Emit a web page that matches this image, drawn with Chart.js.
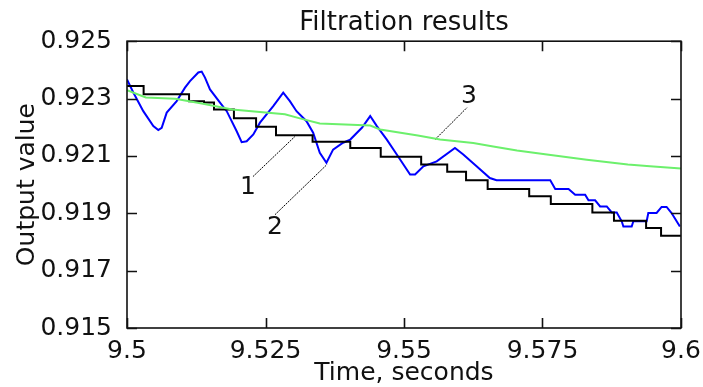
<!DOCTYPE html>
<html>
<head>
<meta charset="utf-8">
<script src="https://cdn.jsdelivr.net/npm/chart.js@4/dist/chart.umd.min.js"></script>
<style>
  html, body { margin: 0; padding: 0; background: #fff; }
  #wrap { width: 703px; height: 387px; }
</style>
</head>
<body>
<div id="wrap"><canvas id="filterChart" width="703" height="387"></canvas></div>
<script>
// axis ticks
const xTicks = [9.5, 9.525, 9.55, 9.575, 9.6];
const xTickLabels = ['9.5', '9.525', '9.55', '9.575', '9.6'];
const yTicks = [0.915, 0.917, 0.919, 0.921, 0.923, 0.925];
const yTickLabels = ['0.915', '0.917', '0.919', '0.921', '0.923', '0.925'];

// curve 1 (black, stepped)
const blackTimes = [9.5, 9.503, 9.5112, 9.5139, 9.5157, 9.5193, 9.5233, 9.5269, 9.5335, 9.5403, 9.5458,
  9.5531, 9.5578, 9.5612, 9.5651, 9.5726, 9.5765, 9.584, 9.5879, 9.5937, 9.5964, 9.6];
const blackValues = [0.92344, 0.92315, 0.92291, 0.92286, 0.92262, 0.92231, 0.92202, 0.92172, 0.92149, 0.92128, 0.92097,
  0.9207, 0.92045, 0.92015, 0.91985, 0.91959, 0.91932, 0.91903, 0.91874, 0.91849, 0.91822, 0.91822];

// curve 2 (blue)
const blueTimes = [9.5, 9.50114, 9.50294, 9.50475, 9.50565, 9.50626, 9.50717, 9.50897, 9.51047, 9.51137, 9.51287,
  9.51348, 9.51408, 9.51498, 9.51679, 9.518, 9.5198, 9.5207, 9.5216, 9.5228, 9.524, 9.5264, 9.5282, 9.5294,
  9.5306, 9.5324, 9.5336, 9.5348, 9.536, 9.5372, 9.539, 9.5403, 9.5424, 9.5439, 9.5451, 9.5469, 9.5487,
  9.5511, 9.552, 9.5535, 9.5559, 9.5592, 9.5607, 9.5631, 9.5655, 9.5667, 9.5764, 9.5773, 9.5797, 9.5809,
  9.5827, 9.5833, 9.5845, 9.5854, 9.5866, 9.5875, 9.5884, 9.5893, 9.5896, 9.5911, 9.5914, 9.5938, 9.5941,
  9.5956, 9.5965, 9.5974, 9.5983, 9.5998];
const blueValues = [0.92367, 0.92321, 0.92256, 0.92204, 0.9219, 0.92198, 0.92251, 0.92291, 0.92338, 0.92361, 0.92391,
  0.92394, 0.92373, 0.92332, 0.92286, 0.92256, 0.92186, 0.92148, 0.92151, 0.92175, 0.92216, 0.92274, 0.92321, 0.92291,
  0.92256, 0.92221, 0.92181, 0.92111, 0.92076, 0.92122, 0.92146, 0.92157, 0.92198, 0.92239, 0.92204, 0.92157, 0.92105,
  0.92035, 0.92035, 0.92064, 0.92081, 0.92128, 0.92105, 0.92064, 0.92023, 0.92015, 0.92015, 0.91985, 0.91985, 0.91965,
  0.91965, 0.91945, 0.91945, 0.91924, 0.91924, 0.91903, 0.91903, 0.91872, 0.91854, 0.91854, 0.91872, 0.91872, 0.91901,
  0.91901, 0.91922, 0.91922, 0.91901, 0.91854];

// curve 3 (green)
const greenTimes = [9.5, 9.5034, 9.5087, 9.5135, 9.519, 9.5285, 9.5312, 9.5348, 9.5439, 9.5457, 9.5525, 9.5565,
  9.5625, 9.5661, 9.5704, 9.5758, 9.583, 9.5904, 9.5944, 9.6];
const greenValues = [0.92329, 0.92304, 0.92299, 0.92283, 0.92262, 0.92245, 0.92231, 0.92213, 0.92206, 0.92192, 0.92171, 0.92157,
  0.92145, 0.92133, 0.92119, 0.92105, 0.92087, 0.9207, 0.92064, 0.92056];

// curve labels and their leader lines
const curveLabels = ['1', '2', '3'];
const labelTimes = [9.52184, 9.52671, 9.56173];
const labelValues = [0.9199, 0.9185, 0.92308];
const leaderTimes = [[9.52274, 9.53032], [9.52671, 9.5361], [9.5556, 9.5614]];
const leaderValues = [[0.92028, 0.92168], [0.91895, 0.9207], [0.92157, 0.92269]];

const FONT = '"DejaVu Sans", Verdana, sans-serif';

function points(ts, vs) {
    return ts.map((t, i) => ({ x: t, y: vs[i] }));
}

const frameAndLabels = {
    id: 'frameAndLabels',
    afterDatasetsDraw(chart) {
        const { ctx, chartArea: a, scales: { x, y } } = chart;
        ctx.save();
        ctx.strokeStyle = '#111';
        ctx.lineWidth = 1.6;
        ctx.strokeRect(a.left, a.top, a.right - a.left, a.bottom - a.top);

        // inward ticks on all four sides
        ctx.beginPath();
        xTicks.forEach(v => {
            const px = Math.round(x.getPixelForValue(v)) + 0.5;
            ctx.moveTo(px, a.bottom); ctx.lineTo(px, a.bottom - 10);
            ctx.moveTo(px, a.top); ctx.lineTo(px, a.top + 10);
        });
        yTicks.forEach(v => {
            const py = Math.round(y.getPixelForValue(v)) + 0.5;
            ctx.moveTo(a.left, py); ctx.lineTo(a.left + 10, py);
            ctx.moveTo(a.right, py); ctx.lineTo(a.right - 10, py);
        });
        ctx.stroke();

        ctx.fillStyle = '#111';
        ctx.font = '25px ' + FONT;
        ctx.textAlign = 'center';
        ctx.textBaseline = 'middle';
        curveLabels.forEach((s, i) => {
            ctx.fillText(s, x.getPixelForValue(labelTimes[i]), y.getPixelForValue(labelValues[i]));
        });
        ctx.restore();
    }
};

const leaderSets = leaderTimes.map((ts, i) => ({
    data: points(ts, leaderValues[i]),
    borderColor: '#000',
    borderWidth: 1,
    borderDash: [2, 1],
    pointRadius: 0
}));

const ctx = document.getElementById('filterChart').getContext('2d');
const myChart = new Chart(ctx, {
    type: 'line',
    data: {
        datasets: [
            {
                label: '3',
                data: points(greenTimes, greenValues),
                borderColor: '#6cf06c',
                borderWidth: 2,
                pointRadius: 0
            },
            {
                label: '1',
                data: points(blackTimes, blackValues),
                borderColor: '#000',
                borderWidth: 2,
                stepped: 'before',
                pointRadius: 0
            },
            {
                label: '2',
                data: points(blueTimes, blueValues),
                borderColor: '#0000ff',
                borderWidth: 2,
                pointRadius: 0
            },
            ...leaderSets
        ]
    },
    options: {
        responsive: false,
        animation: false,
        layout: { padding: { right: 22 } },
        plugins: {
            legend: { display: false },
            tooltip: { enabled: false },
            title: {
                display: true,
                fullSize: false,
                text: 'Filtration results',
                color: '#111',
                font: { family: FONT, size: 26, weight: 'normal' },
                padding: { top: 8, bottom: 2 }
            }
        },
        scales: {
            x: {
                type: 'linear',
                min: 9.5,
                max: 9.6,
                grid: { display: false },
                border: { display: false },
                afterBuildTicks: scale => { scale.ticks = xTicks.map(v => ({ value: v })); },
                afterFit: scale => { scale.height = 59; },
                ticks: {
                    color: '#111',
                    padding: 0,
                    maxRotation: 0,
                    font: { family: FONT, size: 25 },
                    callback: (v, i) => xTickLabels[i]
                },
                title: {
                    display: true,
                    text: 'Time, seconds',
                    color: '#111',
                    font: { family: FONT, size: 25 },
                    padding: { top: 0, bottom: -1 }
                }
            },
            y: {
                min: 0.915,
                max: 0.925,
                grid: { display: false },
                border: { display: false },
                afterBuildTicks: scale => { scale.ticks = yTicks.map(v => ({ value: v })); },
                afterFit: scale => { scale.width = 127; },
                ticks: {
                    color: '#111',
                    padding: 7,
                    font: { family: FONT, size: 25 },
                    callback: (v, i) => yTickLabels[i]
                },
                title: {
                    display: true,
                    text: 'Output value',
                    color: '#111',
                    font: { family: FONT, size: 25 },
                    padding: { top: 12, bottom: 0 }
                }
            }
        }
    },
    plugins: [frameAndLabels]
});
</script>
</body>
</html>
